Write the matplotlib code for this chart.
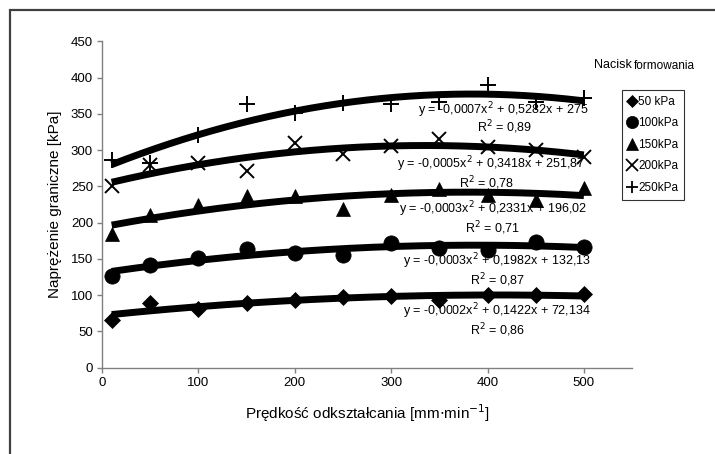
import numpy as np
import matplotlib
matplotlib.use("Agg")
import matplotlib.pyplot as plt
from matplotlib.lines import Line2D
from matplotlib.patches import Rectangle

plt.rcParams['font.family'] = ['Liberation Sans', 'DejaVu Sans']

# ---- data ----
x_rate = [10, 50, 100, 150, 200, 250, 300, 350, 400, 450, 500]
s50 = [66, 89, 81, 89, 94, 98, 99, 94, 100, 100, 101]
s100 = [127, 142, 151, 164, 158, 156, 172, 165, 163, 174, 166]
s150 = [184, 210, 224, 237, 237, 219, 238, 246, 238, 231, 248]
s200 = [250, 280, 282, 271, 310, 294, 306, 315, 304, 300, 291]
s250 = [286, 282, 321, 363, 351, 365, 363, 367, 390, 367, 372]

labels = ['50 kPa', '100kPa', '150kPa', '200kPa', '250kPa']
equations = ['y = -0,0002x$^2$ + 0,1422x + 72,134',
             'y = -0,0003x$^2$ + 0,1982x + 132,13',
             'y = -0,0003x$^2$ + 0,2331x + 196,02',
             'y = -0,0005x$^2$ + 0,3418x + 251,87',
             'y = -0,0007x$^2$ + 0,5282x + 275']
r2 = ['R$^2$ = 0,86', 'R$^2$ = 0,87', 'R$^2$ = 0,71', 'R$^2$ = 0,78', 'R$^2$ = 0,89']

series = [s50, s100, s150, s200, s250]
markers = ['D', 'o', '^', 'x', '+']
msizes = [8, 11, 10.5, 10, 11]

fig = plt.figure(figsize=(7.15, 4.54), dpi=100)
ax = fig.add_axes([0.1427, 0.19, 0.7413, 0.719])

xs = np.array(x_rate, dtype=float)
xfit = np.linspace(10, 500, 200)
for ys, m, ms in zip(series, markers, msizes):
    coef = np.polyfit(xs, np.array(ys, dtype=float), 2)
    ax.plot(xfit, np.polyval(coef, xfit), color='black', lw=5, solid_capstyle='butt', zorder=2)
    ax.plot(xs, ys, linestyle='none', marker=m, ms=ms, color='black',
            mew=1.4 if m in ('x', '+') else 0.5, zorder=3)

# equation labels (data coords)
eq_pos = [(410, 78), (410, 147), (406, 219), (404, 280), (416, 355)]
r2_pos = [(410, 52), (410, 120), (405, 193), (399, 255), (418, 331)]
for (ex, ey), eq, (rx, ry), rt in zip(eq_pos, equations, r2_pos, r2):
    ax.text(ex, ey, eq, ha='center', va='center', fontsize=9, zorder=4)
    ax.text(rx, ry, rt, ha='center', va='center', fontsize=9, zorder=4)

ax.set_xlim(0, 550)
ax.set_ylim(0, 450)
ax.set_xticks([0, 100, 200, 300, 400, 500])
ax.set_yticks(range(0, 451, 50))
for s in ['top', 'right']:
    ax.spines[s].set_visible(False)
for s in ['left', 'bottom']:
    ax.spines[s].set_color('#808080')
    ax.spines[s].set_linewidth(1.0)
ax.tick_params(direction='out', length=3.5, width=1, color='#808080', labelsize=9.5, pad=3)

ax.set_xlabel('Prędkość odkształcania [mm$\\cdot$min$^{-1}$]', fontsize=11, labelpad=10)
ax.set_ylabel('Naprężenie graniczne [kPa]', fontsize=11, labelpad=6)

# legend
handles = [Line2D([], [], linestyle='none', marker=m, color='black', ms=s * 0.8,
                  mew=1.3 if m in ('x', '+') else 0.5) for m, s in zip(markers, msizes)]
leg = fig.legend(handles, labels, loc='upper left', bbox_to_anchor=(621.5 / 715, 1 - 90 / 454),
                 frameon=True, fontsize=8.5, handlelength=0.8, handletextpad=0.1,
                 borderpad=0.5, labelspacing=0.8, borderaxespad=0, fancybox=False)
leg.get_frame().set_edgecolor('black')
leg.get_frame().set_linewidth(0.8)

fig.text(594 / 715, 1 - 65 / 454, 'Nacisk', fontsize=9, va='center', ha='left')
fig.text(634 / 715, 1 - 66 / 454, 'formowania', fontsize=8.5, va='center', ha='left')

# outer frame
fig.patches.append(Rectangle((9.5 / 715, -0.1), 1.2, 1 - 10 / 454 + 0.1, transform=fig.transFigure,
                             fill=False, edgecolor='#404040', linewidth=1.6, figure=fig))

fig.savefig('out.png', dpi=100)
